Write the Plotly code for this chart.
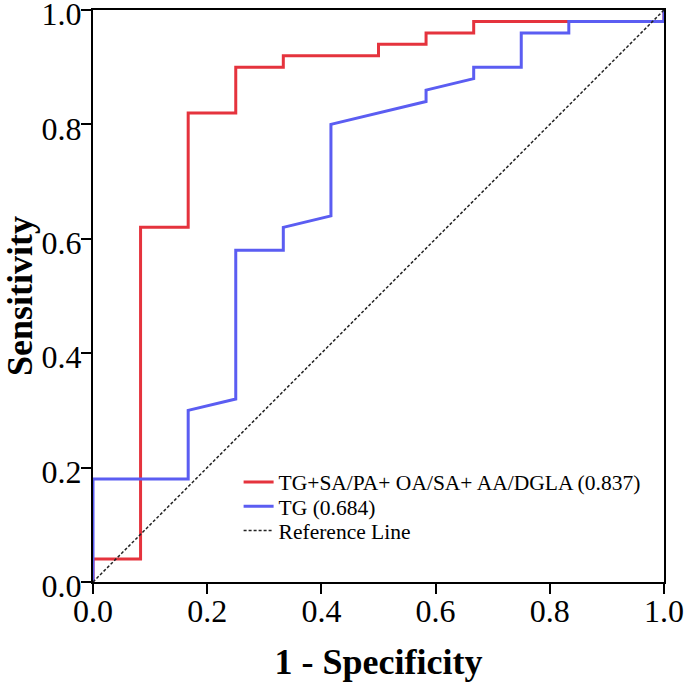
import plotly.graph_objects as go

# Data
combo_name = "TG+SA/PA+ OA/SA+ AA/DGLA (0.837)"
combo_fpr = [0.0, 0.0, 0.0833, 0.0833, 0.1667, 0.1667, 0.25, 0.25, 0.3333, 0.3333, 0.5, 0.5, 0.5833, 0.5833, 0.6667, 0.6667, 0.8333, 1.0, 1.0]
combo_tpr = [0.0, 0.04, 0.04, 0.62, 0.62, 0.82, 0.82, 0.90, 0.90, 0.92, 0.92, 0.94, 0.94, 0.96, 0.96, 0.98, 0.98, 0.98, 1.0]

tg_name = "TG (0.684)"
tg_fpr = [0.0, 0.0, 0.1667, 0.1667, 0.25, 0.25, 0.3333, 0.3333, 0.4167, 0.4167, 0.5833, 0.5833, 0.6667, 0.6667, 0.75, 0.75, 0.8333, 0.8333, 1.0, 1.0]
tg_tpr = [0.0, 0.18, 0.18, 0.30, 0.32, 0.58, 0.58, 0.62, 0.64, 0.80, 0.84, 0.86, 0.88, 0.90, 0.90, 0.96, 0.96, 0.98, 0.98, 1.0]

ref_name = "Reference Line"
ref_x = [0.0, 1.0]
ref_y = [0.0, 1.0]

tick_vals = [0.0, 0.2, 0.4, 0.6, 0.8, 1.0]
tick_text = ["0.0", "0.2", "0.4", "0.6", "0.8", "1.0"]

FONT = "Liberation Serif, Times New Roman, serif"

fig = go.Figure()
fig.add_trace(go.Scatter(x=combo_fpr, y=combo_tpr, mode="lines", name=combo_name,
                         legend="legend", line=dict(color="#E5333D", width=3)))
fig.add_trace(go.Scatter(x=tg_fpr, y=tg_tpr, mode="lines", name=tg_name,
                         legend="legend2", line=dict(color="#5B5DF2", width=3)))
fig.add_trace(go.Scatter(x=ref_x, y=ref_y, mode="lines", name=ref_name,
                         legend="legend3", line=dict(color="#222222", width=1.5, dash="3px,2px")))

axis_common = dict(
    range=[0, 1], tickvals=tick_vals, ticktext=tick_text,
    showline=True, linecolor="black", linewidth=2, mirror=True,
    ticks="outside", ticklen=10, tickwidth=2, tickcolor="black",
    showgrid=False, zeroline=False, automargin=False,
    ticklabeloverflow="allow",
    tickfont=dict(family=FONT, size=32, color="black"),
)

legend_common = dict(x=0.255, xanchor="left", yanchor="middle",
                     bgcolor="rgba(0,0,0,0)", borderwidth=0,
                     font=dict(family=FONT, size=21.5, color="black"))

fig.update_layout(
    width=685, height=684,
    margin=dict(l=93, r=21, t=10, b=102),
    paper_bgcolor="white", plot_bgcolor="white",
    font=dict(family=FONT, color="black"),
    xaxis=dict(**axis_common, ticklabelstandoff=-10,
               title=dict(text="<b>1 - Specificity</b>", font=dict(family=FONT, size=36, color="black"), standoff=20)),
    yaxis=dict(**axis_common, ticklabelstandoff=-7, ticklabelshift=4,
               title=dict(text="<b>Sensitivity</b>", font=dict(family=FONT, size=36, color="black"), standoff=9)),
    legend=dict(**legend_common, y=0.175),
    legend2=dict(**legend_common, y=0.1325),
    legend3=dict(**legend_common, y=0.09),
    showlegend=True,
)

fig.write_html("out.html", config={"displayModeBar": False},
               post_script="document.body.style.margin='0';")
